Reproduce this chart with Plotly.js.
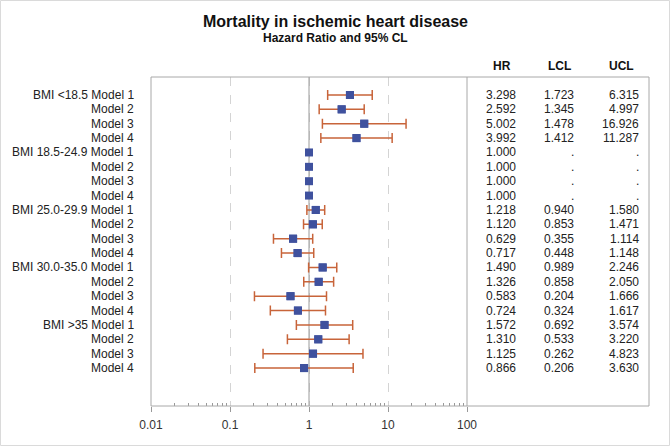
<!DOCTYPE html>
<html>
<head>
<meta charset="utf-8">
<script src="https://cdn.plot.ly/plotly-3.0.1.min.js"></script>
<style>
html,body{margin:0;padding:0;background:#fff;}
#chart{width:671px;height:446px;}
</style>
</head>
<body>
<div id="chart"></div>
<script>
// ---- data ----
var rowLabels = [
  "BMI <18.5 Model 1","Model 2","Model 3","Model 4",
  "BMI 18.5-24.9 Model 1","Model 2","Model 3","Model 4",
  "BMI 25.0-29.9 Model 1","Model 2","Model 3","Model 4",
  "BMI 30.0-35.0 Model 1","Model 2","Model 3","Model 4",
  "BMI >35 Model 1","Model 2","Model 3","Model 4"
];
var hr  = [3.298,2.592,5.002,3.992, 1.000,1.000,1.000,1.000, 1.218,1.120,0.629,0.717, 1.490,1.326,0.583,0.724, 1.572,1.310,1.125,0.866];
var lcl = [1.723,1.345,1.478,1.412, null,null,null,null, 0.940,0.853,0.355,0.448, 0.989,0.858,0.204,0.324, 0.692,0.533,0.262,0.206];
var ucl = [6.315,4.997,16.926,11.287, null,null,null,null, 1.580,1.471,1.114,1.148, 2.246,2.050,1.666,1.617, 3.574,3.220,4.823,3.630];
var tableHeaders = ["HR","LCL","UCL"];
var xTickVals = [0.01,0.1,1,10,100];
var xTickText = ["0.01","0.1","1","10","100"];
var titleText = "Mortality in ischemic heart disease";
var subtitleText = "Hazard Ratio and 95% CL";

// ---- geometry (pixels) ----
var W = 671, H = 446;
var mL = 151, mR = 22, mT = 77, mB = 40;
var pw = W - mL - mR;   // 498
var ph = H - mT - mB;   // 329
var axisRightPx = 467;
var xDomEnd = (axisRightPx - mL) / pw;
function px2paperX(px){ return (px - mL) / pw; }
function px2paperY(py){ return (H - mB - py) / ph; }

var FONT = "Liberation Sans, Arial, Helvetica, sans-serif";
var TXT = "#222";
var blue = "#3F519E";
var orange = "#C8643A";
var boxGray = "#A8A8A8";

var idx = rowLabels.map(function(_, i){ return i; });

// rows with confidence limits
var ciX = [], ciY = [], ciPlus = [], ciMinus = [];
for (var i = 0; i < hr.length; i++) {
  if (lcl[i] !== null && ucl[i] !== null) {
    ciX.push(hr[i]); ciY.push(i);
    ciPlus.push(ucl[i] - hr[i]); ciMinus.push(hr[i] - lcl[i]);
  }
}

var yTop = -1.25, yBot = 21.64;

var traces = [
  { // reference line at HR = 1
    x: [1, 1], y: [yTop, yBot], xaxis: "x", yaxis: "y",
    mode: "lines", line: {color: "#9a9a9a", width: 1},
    hoverinfo: "skip", showlegend: false
  },
  { // confidence intervals
    x: ciX, y: ciY, mode: "markers", type: "scatter",
    marker: {symbol: "square", size: 8, color: blue},
    error_x: {type: "data", symmetric: false, array: ciPlus, arrayminus: ciMinus,
              color: orange, thickness: 1.5, width: 5},
    showlegend: false
  },
  { // point estimates
    x: hr, y: idx, mode: "markers", type: "scatter",
    marker: {symbol: "square", size: 8, color: blue},
    showlegend: false
  }
];

var annotations = [];
// row labels
rowLabels.forEach(function(lab, i){
  annotations.push({
    text: lab, x: px2paperX(134), xref: "paper", xanchor: "right",
    y: i, yref: "y", yanchor: "middle", showarrow: false,
    borderpad: 0, borderwidth: 0,
    font: {family: FONT, size: 12, color: TXT}
  });
});
// table
var colRight = [516, 574, 639];
var colCenter = [502, 559, 621];
var cols = [hr, lcl, ucl];
tableHeaders.forEach(function(h, c){
  annotations.push({
    text: "<b>" + h + "</b>", x: px2paperX(colCenter[c]), xref: "paper", xanchor: "center",
    y: px2paperY(66), yref: "paper", yanchor: "middle", showarrow: false,
    borderpad: 0, borderwidth: 0,
    font: {family: FONT, size: 12, color: "#111"}
  });
  cols[c].forEach(function(v, i){
    annotations.push({
      text: (v === null ? "." : v.toFixed(3)), x: px2paperX(colRight[c]), xref: "paper", xanchor: "right",
      y: i, yref: "y", yanchor: "middle", showarrow: false,
      borderpad: 0, borderwidth: 0,
      font: {family: FONT, size: 12, color: TXT}
    });
  });
});
// subtitle
annotations.push({
  text: "<b>" + subtitleText + "</b>", x: px2paperX(335), xref: "paper", xanchor: "center",
  y: px2paperY(38), yref: "paper", yanchor: "middle", showarrow: false,
  borderpad: 0, borderwidth: 0,
  font: {family: FONT, size: 12, color: "#111"}
});

var minorVals = [];
[0.01, 0.1, 1, 10].forEach(function(d){
  for (var k = 2; k <= 9; k++) minorVals.push(+(d * k).toPrecision(3));
});

var shapes = [
  // plot + table box
  {type: "rect", xref: "paper", yref: "paper", x0: 0, x1: 1, y0: 0, y1: 1,
   line: {color: boxGray, width: 1}},
  // separator between plot and table
  {type: "line", xref: "paper", yref: "paper", x0: xDomEnd, x1: xDomEnd, y0: 0, y1: 1,
   line: {color: boxGray, width: 1}},
  // outer frame of image
  {type: "rect", xref: "paper", yref: "paper",
   x0: px2paperX(0.5), x1: px2paperX(669.5), y0: px2paperY(445.5), y1: px2paperY(0.5),
   line: {color: "#DADADA", width: 1}}
];

var layout = {
  width: W, height: H,
  margin: {l: mL, r: mR, t: mT, b: mB, pad: 0},
  paper_bgcolor: "#fff", plot_bgcolor: "#fff",
  font: {family: FONT, size: 12, color: TXT},
  title: {text: "<b>" + titleText + "</b>", x: 0.5, xref: "container", xanchor: "center",
          y: 1 - 21 / H, yref: "container", yanchor: "middle",
          font: {family: FONT, size: 16, color: "#111"}},
  xaxis: {
    type: "log", range: [-2, 2], domain: [0, xDomEnd],
    tickmode: "array", tickvals: xTickVals, ticktext: xTickText,
    ticks: "outside", ticklen: 5, tickwidth: 1, tickcolor: "#999",
    ticklabelstandoff: 3,
    tickfont: {family: FONT, size: 12, color: "#333"},
    showgrid: true, gridcolor: "#D4D4D4", griddash: "dash", gridwidth: 1,
    showline: false, zeroline: false,
    minor: {tickmode: "array", tickvals: minorVals, ticks: "inside", ticklen: 3,
            tickwidth: 1, tickcolor: "#999", showgrid: false}
  },
  yaxis: {
    range: [yBot, yTop], showticklabels: false, showgrid: false,
    zeroline: false, showline: false, ticks: ""
  },
  showlegend: false,
  annotations: annotations,
  shapes: shapes
};

Plotly.newPlot("chart", traces, layout, {displayModeBar: false, staticPlot: true});
</script>
</body>
</html>
